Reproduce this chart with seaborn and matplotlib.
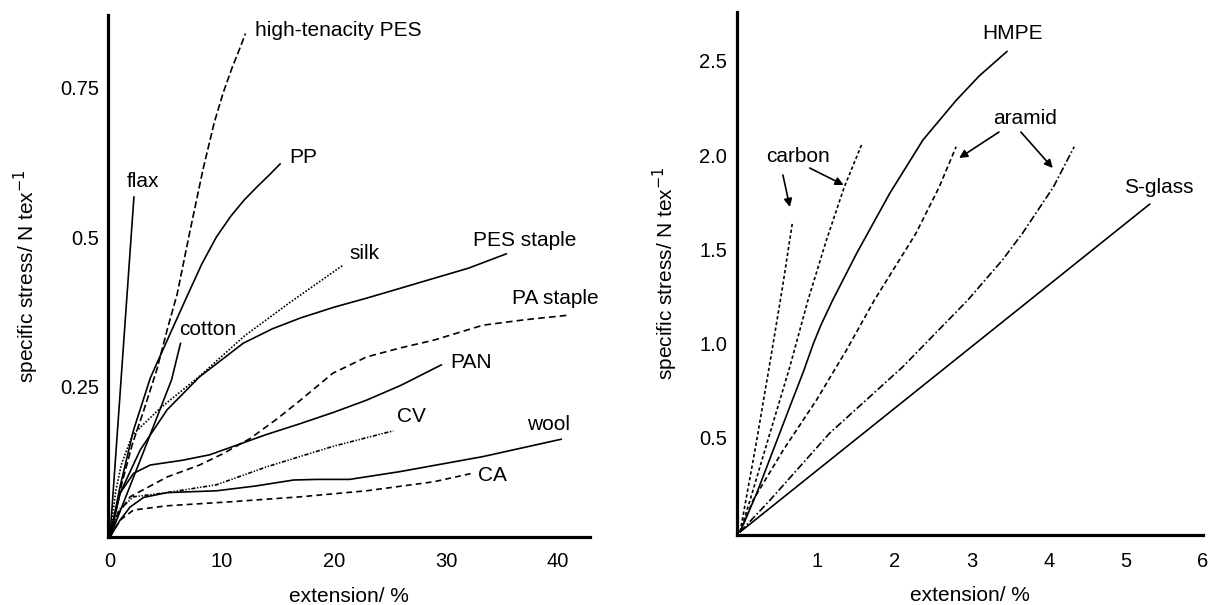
import pandas as pd
import matplotlib
matplotlib.use("Agg")
import matplotlib.pyplot as plt
import seaborn as sns

# ---- left panel: textile fibres (extension %, specific stress N/tex)
flax_x = [0, 2.14]
flax_y = [0, 0.567]
cotton_x = [0, 2.7, 5.5, 6.3]
cotton_y = [0, 0.128, 0.262, 0.323]
htpes_x = [0, 1, 2, 3, 4.2, 5.1, 6.0, 7.1, 8.3, 9.3, 10.1, 10.9, 11.5, 12.1]
htpes_y = [0, 0.085, 0.155, 0.21, 0.28, 0.345, 0.405, 0.506, 0.612, 0.69, 0.74, 0.782, 0.81, 0.839]
pp_x = [0, 0.9, 2.1, 3.6, 5.4, 6.85, 8.2, 9.5, 10.8, 12.0, 13.1, 14.2, 15.2]
pp_y = [0, 0.084, 0.178, 0.265, 0.34, 0.40, 0.455, 0.50, 0.535, 0.562, 0.583, 0.603, 0.622]
silk_x = [0, 0.5, 1, 2, 4.5, 8, 12, 16, 20.8]
silk_y = [0, 0.075, 0.12, 0.17, 0.215, 0.268, 0.335, 0.39, 0.453]
pes_x = [0, 0.9, 2.7, 5.1, 8.0, 11.9, 14.5, 17.0, 20.0, 22.9, 26.0, 28.9, 32.0, 35.4]
pes_y = [0, 0.073, 0.145, 0.212, 0.267, 0.323, 0.347, 0.365, 0.383, 0.398, 0.415, 0.431, 0.448, 0.472]
pa_x = [0, 0.6, 1.8, 5.1, 8, 10, 12.5, 15.0, 17.0, 19.9, 22.9, 25.9, 28.9, 33.3, 37.0, 41.1]
pa_y = [0, 0.035, 0.067, 0.1, 0.12, 0.138, 0.164, 0.198, 0.228, 0.273, 0.30, 0.315, 0.328, 0.353, 0.362, 0.37]
pan_x = [0, 0.9, 2.1, 3.6, 6.5, 8.9, 11.6, 14.0, 17.0, 20.0, 22.9, 26.0, 29.6]
pan_y = [0, 0.073, 0.106, 0.12, 0.128, 0.137, 0.155, 0.171, 0.189, 0.208, 0.228, 0.253, 0.287]
cv_x = [0, 0.8, 2.1, 5.1, 9.5, 14.0, 19.9, 25.3]
cv_y = [0, 0.045, 0.067, 0.074, 0.087, 0.117, 0.151, 0.177]
wool_x = [0, 0.9, 1.8, 3.0, 5.1, 9.5, 13, 16.4, 18.5, 21.4, 25.9, 33.3, 40.3]
wool_y = [0, 0.028, 0.05, 0.066, 0.074, 0.077, 0.085, 0.095, 0.096, 0.096, 0.109, 0.134, 0.163]
ca_x = [0, 0.9, 2.1, 5.1, 11.0, 17.0, 22.9, 28.9, 32.3]
ca_y = [0, 0.028, 0.045, 0.052, 0.059, 0.067, 0.077, 0.092, 0.106]

# ---- right panel: high-performance fibres
carb1_x = [0, 0.2, 0.4, 0.55, 0.68]
carb1_y = [0, 0.45, 0.93, 1.3, 1.646]
carb2_x = [0, 0.13, 0.387, 0.645, 0.88, 1.12, 1.35, 1.58]
carb2_y = [0, 0.17, 0.524, 0.877, 1.23, 1.55, 1.83, 2.06]
hmpe_x = [0, 0.215, 0.43, 0.645, 0.82, 0.95, 1.05, 1.2, 1.51, 1.94, 2.37, 2.80, 3.1, 3.46]
hmpe_y = [0, 0.205, 0.435, 0.665, 0.85, 1.0, 1.1, 1.23, 1.478, 1.797, 2.08, 2.29, 2.42, 2.55]
ara1_x = [0, 0.17, 0.56, 0.99, 1.38, 1.74, 2.28, 2.58, 2.80]
ara1_y = [0, 0.17, 0.435, 0.70, 0.966, 1.23, 1.585, 1.83, 2.044]
ara2_x = [0, 0.39, 1.16, 2.11, 2.95, 3.40, 3.66, 4.06, 4.33]
ara2_y = [0, 0.17, 0.524, 0.877, 1.23, 1.443, 1.585, 1.83, 2.044]
sglass_x = [0, 5.31]
sglass_y = [0, 1.74]

left_curves = {
    "flax": (flax_x, flax_y, ""),
    "cotton": (cotton_x, cotton_y, ""),
    "high-tenacity PES": (htpes_x, htpes_y, (4.2, 1.8)),
    "PP": (pp_x, pp_y, ""),
    "silk": (silk_x, silk_y, (1, 1)),
    "PES staple": (pes_x, pes_y, ""),
    "PA staple": (pa_x, pa_y, (4, 2.5)),
    "PAN": (pan_x, pan_y, ""),
    "CV": (cv_x, cv_y, (2.5, 1, 0.8, 1, 0.8, 1)),
    "wool": (wool_x, wool_y, ""),
    "CA": (ca_x, ca_y, (3.5, 2.5)),
}
right_curves = {
    "carbon a": (carb1_x, carb1_y, (2, 1.5)),
    "carbon b": (carb2_x, carb2_y, (2, 1.5)),
    "HMPE": (hmpe_x, hmpe_y, ""),
    "aramid a": (ara1_x, ara1_y, (3, 1.8)),
    "aramid b": (ara2_x, ara2_y, (4.5, 1.5, 1, 1.5)),
    "S-glass": (sglass_x, sglass_y, ""),
}


def to_frame(curves):
    rows = []
    for name, (xs, ys, _) in curves.items():
        for x, y in zip(xs, ys):
            rows.append({"fibre": name, "extension": x, "stress": y})
    return pd.DataFrame(rows)


sns.set_style("ticks")
plt.rcParams["font.family"] = ["Liberation Sans", "DejaVu Sans"]
plt.rcParams["text.color"] = "black"
plt.rcParams["axes.labelcolor"] = "black"
plt.rcParams["xtick.color"] = "black"
plt.rcParams["ytick.color"] = "black"

fig = plt.figure(figsize=(12.31, 6.05), dpi=100)
ax1 = fig.add_axes([0.0877, 0.1124, 0.3916, 0.8628])
ax2 = fig.add_axes([0.5987, 0.1157, 0.3786, 0.8645])

for ax, curves in [(ax1, left_curves), (ax2, right_curves)]:
    df = to_frame(curves)
    sns.lineplot(data=df, x="extension", y="stress", hue="fibre", style="fibre",
                 palette={k: "black" for k in curves},
                 dashes={k: v[2] for k, v in curves.items()},
                 estimator=None, sort=False, legend=False, lw=1.2, ax=ax)
    sns.despine(ax=ax)
    for s in ["left", "bottom"]:
        ax.spines[s].set_linewidth(2.3)
        ax.spines[s].set_color("black")
    ax.set_xlabel("extension/ %", fontsize=15, labelpad=11)
    ax.set_ylabel("specific stress/ N tex$^{-1}$", fontsize=15)

ax1.set_xlim(-0.18, 42.86)
ax1.set_ylim(0, 0.87)
ax1.set_xticks([0, 10, 20, 30, 40])
ax1.set_yticks([0.25, 0.5, 0.75], ["0.25", "0.5", "0.75"])
ax1.tick_params(axis="x", length=0, pad=11, labelsize=14.5)
ax1.tick_params(axis="y", length=0, pad=6.5, labelsize=14.5)
ax1.yaxis.set_label_coords(-0.139, 0.5)

ax2.set_xlim(-0.04, 6.0)
ax2.set_ylim(-0.016, 2.759)
ax2.set_xticks([1, 2, 3, 4, 5, 6])
ax2.set_yticks([0.5, 1.0, 1.5, 2.0, 2.5], ["0.5", "1.0", "1.5", "2.0", "2.5"])
ax2.tick_params(axis="x", length=0, pad=12, labelsize=14.5)
ax2.tick_params(axis="y", length=0, pad=7, labelsize=14.5)
ax2.yaxis.set_label_coords(-0.122, 0.5)

# curve labels, left panel
left_labels = [("high-tenacity PES", 12.95, 0.845), ("PP", 16.0, 0.632),
               ("flax", 1.5, 0.592), ("silk", 21.4, 0.472), ("cotton", 6.2, 0.346),
               ("PES staple", 32.4, 0.494), ("PA staple", 35.9, 0.397),
               ("PAN", 30.4, 0.29), ("CV", 25.6, 0.2), ("wool", 37.2, 0.188),
               ("CA", 32.9, 0.103)]
for txt, x, y in left_labels:
    ax1.text(x, y, txt, fontsize=15, ha="left", va="center")

# curve labels, right panel
right_labels = [("HMPE", 3.53, 2.647), ("aramid", 3.69, 2.196),
                ("carbon", 0.75, 1.99), ("S-glass", 5.43, 1.83)]
for txt, x, y in right_labels:
    ax2.text(x, y, txt, fontsize=15, ha="center", va="center")

arrows = [((0.555, 1.894), (0.645, 1.724)), ((0.903, 1.931), (1.342, 1.841)),
          ((3.355, 2.122), (2.839, 1.984)), ((3.639, 2.122), (4.052, 1.931))]
for tail, head in arrows:
    ax2.annotate("", xy=head, xytext=tail,
                 arrowprops=dict(arrowstyle="-|>", color="black", lw=1.2,
                                 mutation_scale=12, shrinkA=0, shrinkB=0))

fig.savefig("out.png", dpi=100)
